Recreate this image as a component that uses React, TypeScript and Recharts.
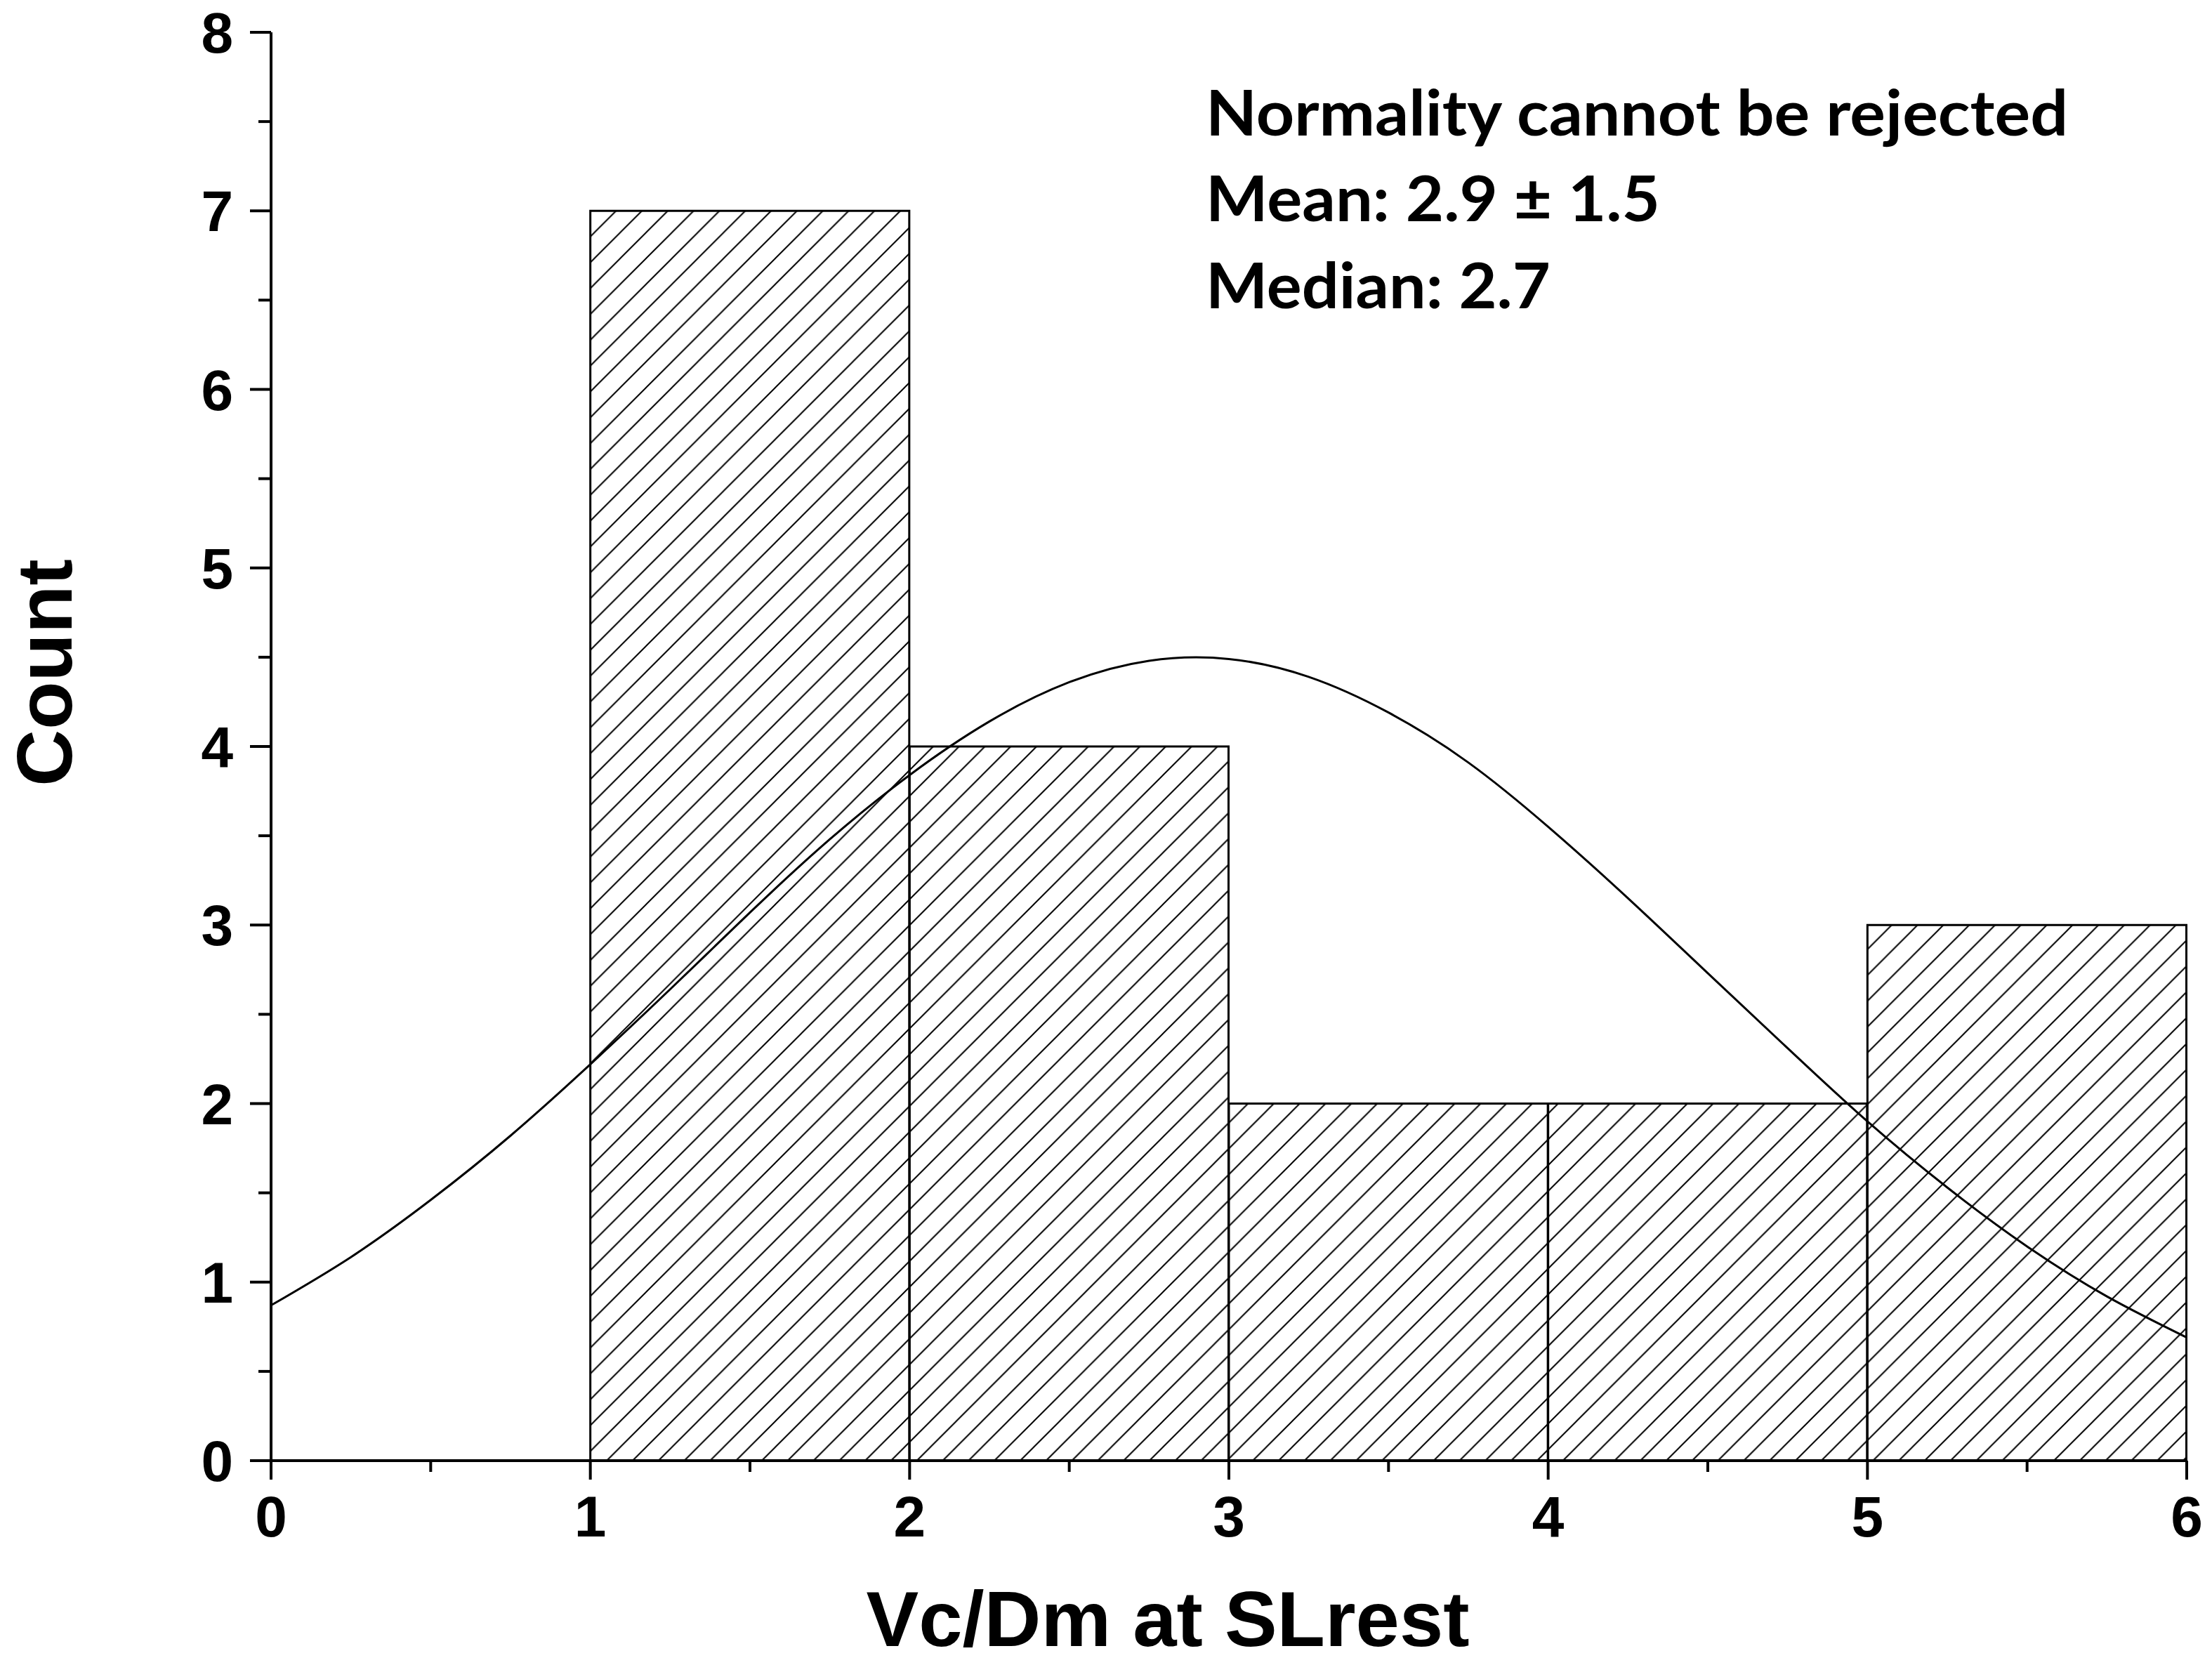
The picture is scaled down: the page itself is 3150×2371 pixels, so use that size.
import React from 'react';
import { ComposedChart, Bar, Line, XAxis, YAxis, Customized } from 'recharts';

// ---- data ----
const binMids = [0.5, 1.5, 2.5, 3.5, 4.5, 5.5];
const binCounts = [0, 7, 4, 2, 2, 3];

const fitX = [0, 0.25, 0.5, 0.75, 1, 1.25, 1.5, 1.75, 2, 2.25, 2.5, 2.75, 3, 3.25, 3.5, 3.75, 4, 4.25, 4.5, 4.75, 5, 5.25, 5.5, 5.75, 6];
const fitY = [0.87, 1.14, 1.46, 1.82, 2.22, 2.64, 3.07, 3.48, 3.84, 4.14, 4.36, 4.48, 4.49, 4.39, 4.19, 3.91, 3.55, 3.15, 2.73, 2.31, 1.9, 1.53, 1.2, 0.92, 0.69];

const xTicks = [0, 0.5, 1, 1.5, 2, 2.5, 3, 3.5, 4, 4.5, 5, 5.5, 6];
const yTicks = [0, 0.5, 1, 1.5, 2, 2.5, 3, 3.5, 4, 4.5, 5, 5.5, 6, 6.5, 7, 7.5, 8];

const xLabel = 'Vc/Dm at SLrest';
const yLabel = 'Count';
const notes = ['Normality cannot be rejected', 'Mean: 2.9 ± 1.5', 'Median: 2.7'];

const binTable = binMids.map((mid, i) => ({ mid, count: binCounts[i] }));
const fitTable = fitX.map((x, i) => ({ x, fit: fitY[i] }));

// ---- layout ----
const W = 3150;
const H = 2371;
const MARGIN = { top: 46, right: 36, bottom: 141, left: 186 };
const Y_AXIS_W = 200;
const X_AXIS_H = 150;
const PLOT_W = W - MARGIN.left - Y_AXIS_W - MARGIN.right;
const BAR_SIZE = PLOT_W / 6 - 0.5;

const ARIAL = '"Liberation Sans", Arial, Helvetica, sans-serif';
const NOTE_FONT = 'Lato, "Open Sans", "Noto Sans", sans-serif';

const YTick = (props: any) => {
  const { x, y, payload } = props;
  const v = payload.value;
  const major = Number.isInteger(v);
  return (
    <g>
      <line x1={x - (major ? 30 : 18)} x2={x} y1={y} y2={y} stroke="#000" strokeWidth={4} />
      {major && (
        <text x={x - 54} y={y + 29} textAnchor="end" fontSize={82} fontWeight="bold" fontFamily={ARIAL} fill="#000">
          {v}
        </text>
      )}
    </g>
  );
};

const XTick = (props: any) => {
  const { x, y, payload } = props;
  const v = payload.value;
  const major = Number.isInteger(v);
  return (
    <g>
      <line x1={x} x2={x} y1={y} y2={y + (major ? 27 : 16)} stroke="#000" strokeWidth={4} />
      {major && (
        <text x={x} y={y + 108} textAnchor="middle" fontSize={82} fontWeight="bold" fontFamily={ARIAL} fill="#000">
          {v}
        </text>
      )}
    </g>
  );
};

const noteWidths = [1228, 647, 491];
const noteBaselines = [193, 315, 439];

const Texts = () => (
  <g>
    <text x={1663} y={2344} textAnchor="middle" fontSize={112} fontWeight="bold" fontFamily={ARIAL} fill="#000">
      {xLabel}
    </text>
    <text
      x={102}
      y={958}
      textAnchor="middle"
      fontSize={112}
      fontWeight="bold"
      fontFamily={ARIAL}
      fill="#000"
      transform="rotate(-90, 102, 958)"
    >
      {yLabel}
    </text>
    {notes.map((t, i) => (
      <text
        key={i}
        x={1717}
        y={noteBaselines[i]}
        fontSize={90}
        fontWeight="bold"
        fontFamily={NOTE_FONT}
        fill="#000"
        textLength={noteWidths[i]}
        lengthAdjust="spacingAndGlyphs"
      >
        {t}
      </text>
    ))}
  </g>
);

export default function App() {
  return (
    <div style={{ position: 'absolute', left: 0, top: 0, width: W, height: H, background: '#fff' }}>
      <ComposedChart width={W} height={H} data={binTable} margin={MARGIN}>
        <defs>
          <pattern id="hatch" patternUnits="userSpaceOnUse" x={0} y={0} width={36.8} height={36.8}>
            <path
              d="M0,36.8 L36.8,0 M-9.2,9.2 L9.2,-9.2 M27.6,46 L46,27.6"
              stroke="#000"
              strokeWidth={2}
              fill="none"
            />
          </pattern>
        </defs>
        <XAxis
          xAxisId="bins"
          type="number"
          dataKey="mid"
          domain={[0, 6]}
          ticks={xTicks}
          interval={0}
          tickLine={false}
          tickSize={0}
          tickMargin={0}
          height={X_AXIS_H}
          axisLine={{ stroke: '#000', strokeWidth: 4 }}
          tick={<XTick />}
        />
        <XAxis xAxisId="fit" type="number" dataKey="x" domain={[0, 6]} hide />
        <YAxis
          type="number"
          domain={[0, 8]}
          ticks={yTicks}
          interval={0}
          tickLine={false}
          tickSize={0}
          tickMargin={0}
          width={Y_AXIS_W}
          axisLine={{ stroke: '#000', strokeWidth: 4 }}
          tick={<YTick />}
        />
        <Bar
          xAxisId="bins"
          dataKey="count"
          barSize={BAR_SIZE}
          fill="url(#hatch)"
          stroke="#000"
          strokeWidth={3}
          isAnimationActive={false}
        />
        <Line
          xAxisId="fit"
          data={fitTable}
          dataKey="fit"
          type="natural"
          stroke="#000"
          strokeWidth={3}
          dot={false}
          activeDot={false}
          isAnimationActive={false}
        />
        <Customized component={<Texts />} />
      </ComposedChart>
    </div>
  );
}
